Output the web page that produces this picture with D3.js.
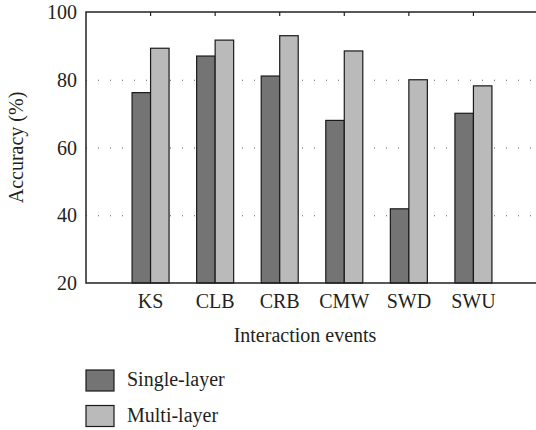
<!DOCTYPE html>
<html>
<head>
<meta charset="utf-8">
<script src="https://cdn.jsdelivr.net/npm/d3@7"></script>
<style>
  body { margin: 0; background: #fff; }
  svg text { font-family: 'Liberation Serif', 'Times New Roman', 'DejaVu Serif', serif; fill: #231f20; }
</style>
</head>
<body>
<svg id="chart" width="536" height="430"></svg>
<script>
var categories = ["KS", "CLB", "CRB", "CMW", "SWD", "SWU"];
var singleLayer = [76.2, 87, 81.1, 68, 41.9, 70.1];
var multiLayer = [89.3, 91.7, 93, 88.5, 80, 78.2];
var yTicks = [20, 40, 60, 80, 100];
var seriesNames = ["Single-layer", "Multi-layer"];
var seriesColors = ["#747474", "#bababa"];

var svg = d3.select("#chart"),
    margin = {top: 12, left: 86, bottom: 147},
    height = 430 - margin.top - margin.bottom,
    fontSize = "20px";

// categories sit at 1..6 on a 0..7 axis, right end runs off the picture
var x = d3.scaleLinear().domain([0, 7]).range([0, 452]);
var y = d3.scaleLinear().domain([20, 100]).range([height, 0]);
var barW = 18.5;

var g = svg.append("g")
    .attr("transform", "translate(" + margin.left + "," + margin.top + ")");

// dotted grid
g.selectAll(".grid")
  .data(yTicks.filter(function(d) { return d > 20 && d < 100; }))
  .enter().append("line")
    .attr("class", "grid")
    .attr("x1", 0)
    .attr("x2", 460)
    .attr("y1", function(d) { return y(d) + 0.5; })
    .attr("y2", function(d) { return y(d) + 0.5; })
    .style("stroke", "#555")
    .style("stroke-width", "1px")
    .style("stroke-dasharray", "1,11");

var data = categories.map(function(c, i) {
  return {cat: c, idx: i + 1, vals: [singleLayer[i], multiLayer[i]]};
});

var groups = g.selectAll(".grp")
  .data(data)
  .enter().append("g")
    .attr("class", "grp");

groups.selectAll("rect")
  .data(function(d) {
    return d.vals.map(function(v, s) { return {idx: d.idx, v: v, s: s}; });
  })
  .enter().append("rect")
    .attr("x", function(d) { return x(d.idx) - barW + d.s * barW; })
    .attr("y", function(d) { return y(d.v); })
    .attr("width", barW)
    .attr("height", function(d) { return height - y(d.v); })
    .attr("fill", function(d) { return seriesColors[d.s]; })
    .attr("stroke", "#1a1a1a")
    .attr("stroke-width", 1.2);

// y axis labels
g.selectAll(".ylab")
  .data(yTicks)
  .enter().append("text")
    .attr("class", "ylab")
    .attr("x", -9)
    .attr("y", function(d) { return y(d); })
    .attr("dy", "0.35em")
    .attr("text-anchor", "end")
    .style("font-size", fontSize)
    .text(function(d) { return d; });

// x labels
g.selectAll(".xlab")
  .data(data)
  .enter().append("text")
    .attr("class", "xlab")
    .attr("x", function(d) { return x(d.idx); })
    .attr("y", height + 25)
    .attr("text-anchor", "middle")
    .style("font-size", fontSize)
    .text(function(d) { return d.cat; });

// top ticks
g.selectAll(".ttick")
  .data(data)
  .enter().append("line")
    .attr("x1", function(d) { return x(d.idx); })
    .attr("x2", function(d) { return x(d.idx); })
    .attr("y1", 0)
    .attr("y2", 4)
    .style("stroke", "#222")
    .style("stroke-width", "1.2px");

// frame
g.append("path")
  .attr("d", "M460,0 H0 V" + height + " H460")
  .attr("fill", "none")
  .style("stroke", "#222")
  .style("stroke-width", "1.5px");

svg.append("text")
  .attr("transform", "translate(23," + (margin.top + height / 2) + ") rotate(-90)")
  .attr("text-anchor", "middle")
  .style("font-size", fontSize)
  .text("Accuracy (%)");

svg.append("text")
  .attr("x", 305)
  .attr("y", 342)
  .attr("text-anchor", "middle")
  .style("font-size", fontSize)
  .text("Interaction events");

var legend = svg.selectAll(".legend")
  .data(seriesNames)
  .enter().append("g")
    .attr("class", "legend")
    .attr("transform", function(d, i) { return "translate(86," + (370 + i * 35.5) + ")"; });

legend.append("rect")
  .attr("width", 28)
  .attr("height", 21)
  .attr("fill", function(d, i) { return seriesColors[i]; })
  .attr("stroke", "#1a1a1a")
  .attr("stroke-width", 1.2);

legend.append("text")
  .attr("x", 41)
  .attr("y", 16)
  .style("font-size", fontSize)
  .text(function(d) { return d; });
</script>
</body>
</html>
